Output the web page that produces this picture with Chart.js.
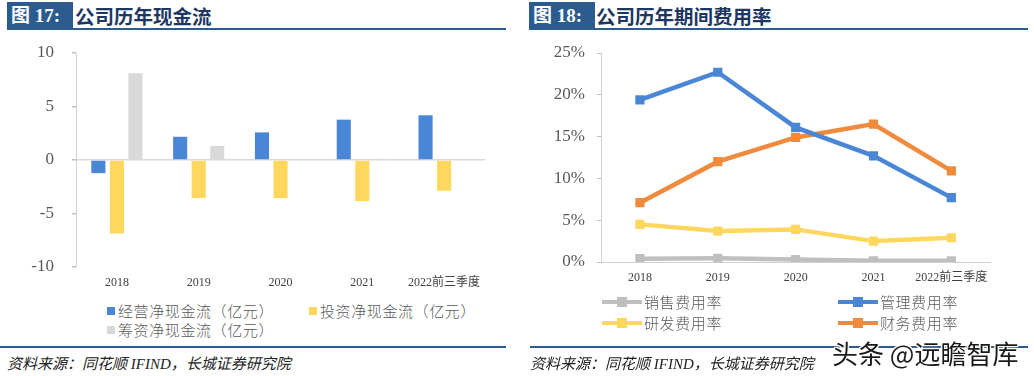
<!DOCTYPE html>
<html>
<head>
<meta charset="utf-8">
<script src="https://cdn.jsdelivr.net/npm/chart.js@4.4.0/dist/chart.umd.min.js"></script>
<style>
  html, body { margin: 0; padding: 0; background: #fff; }
  body { width: 1034px; height: 376px; position: relative; overflow: hidden;
         font-family: "Noto Sans CJK SC", "Liberation Serif", sans-serif; }
  .abs { position: absolute; }
  .tag { background: #2c5b8e; color: #fff; font: bold 19px "Liberation Serif", "Noto Sans CJK SC", serif;
         height: 27px; line-height: 27px; padding-left: 4px; box-sizing: border-box; top: 2px; }
  .title { color: #1d3763; font: bold 19.5px "Noto Sans CJK SC", sans-serif; top: 2px; height: 27px; line-height: 27px; }
  .rule { height: 2px; background: #2c5b8e; }
  .source { font: italic 15px "Liberation Serif", "Noto Sans CJK SC", serif; color: #222; top: 352px; }
  .legend { display: grid; color: #595959; font: 300 15px "Noto Sans CJK SC", sans-serif; letter-spacing: 0.6px; }
  .legend .item { display: flex; align-items: center; height: 19px; white-space: nowrap; }
  .legend .box { width: 8px; height: 8px; margin-right: 3px; }
  .legend .ln { position: relative; width: 40px; height: 4px; margin-right: 2px; }
  .legend .ln span { position: absolute; left: 15px; top: -3px; width: 10px; height: 10px; }
  .wm { left: 832px; top: 334px; font: 400 26px "Noto Sans CJK SC", sans-serif; color: #1a1a1a;
        text-shadow: -1px -1px 0 #fff, 1px -1px 0 #fff, -1px 1px 0 #fff, 1px 1px 0 #fff, 0 0 3px #fff; white-space: nowrap; }
</style>
</head>
<body>
  <div class="abs tag" style="left:7px;width:66px;">图 17:</div>
  <div class="abs title" style="left:75px;">公司历年现金流</div>
  <div class="abs rule" style="left:7px;top:28px;width:499px;"></div>
  <canvas id="cashChart" class="abs" width="500" height="255" style="left:0;top:40px;"></canvas>
  <div id="cashLegend" class="abs legend" style="left:107px;top:301px;grid-template-columns:202px 202px;"></div>
  <div class="abs rule" style="left:0;top:346px;width:506px;"></div>
  <div class="abs source" style="left:7px;">资料来源：同花顺 IFIND，长城证券研究院</div>

  <div class="abs tag" style="left:529px;width:66px;">图 18:</div>
  <div class="abs title" style="left:596px;">公司历年期间费用率</div>
  <div class="abs rule" style="left:529px;top:28px;width:499px;"></div>
  <canvas id="expenseChart" class="abs" width="480" height="255" style="left:517px;top:40px;"></canvas>
  <div id="expenseLegend" class="abs legend" style="left:602px;top:292px;grid-template-columns:236px 236px;row-gap:2px;"></div>
  <div class="abs rule" style="left:530px;top:346px;width:498px;"></div>
  <div class="abs source" style="left:530px;">资料来源：同花顺 IFIND，长城证券研究院</div>
  <div class="abs wm">头条 @远瞻智库</div>

<script>
const years = ['2018', '2019', '2020', '2021', '2022前三季度'];

// 现金流（亿元）
const operatingCF = [-1.23, 2.17, 2.58, 3.77, 4.18];
const investingCF = [-6.86, -3.56, -3.56, -3.84, -2.87];
const financingCF = [8.1, 1.32, 0, 0.1, 0];

// 期间费用率（%）
const salesRate = [0.4, 0.45, 0.3, 0.15, 0.15];
const adminRate = [19.4, 22.7, 16.1, 12.7, 7.7];
const rdRate = [4.5, 3.7, 3.9, 2.5, 2.9];
const financeRate = [7.1, 12.0, 14.9, 16.5, 10.9];

const serif = '"Liberation Serif", "Noto Sans CJK SC", serif';
Chart.defaults.font.family = serif;
Chart.defaults.color = '#595959';

function buildLegend(chart, elementId) {
    const el = document.getElementById(elementId);
    chart.data.datasets.forEach(function (ds) {
        const item = document.createElement('div');
        item.className = 'item';
        let marker;
        if (chart.config.type === 'bar') {
            marker = document.createElement('div');
            marker.className = 'box';
            marker.style.background = ds.backgroundColor;
        } else {
            marker = document.createElement('div');
            marker.className = 'ln';
            marker.style.background = ds.borderColor;
            const sq = document.createElement('span');
            sq.style.background = ds.borderColor;
            marker.appendChild(sq);
        }
        item.appendChild(marker);
        item.appendChild(document.createTextNode(ds.label));
        el.appendChild(item);
    });
}

// fixed axis width, and no extra room for the end labels
function fixYAxis(width) {
    return function (scale) {
        scale.width = width;
        scale.paddingTop = 0;
        scale.paddingBottom = 0;
    };
}

const cashChart = new Chart(document.getElementById('cashChart'), {
    type: 'bar',
    data: {
        labels: years,
        datasets: [
            { label: '经营净现金流（亿元）', data: operatingCF, backgroundColor: '#4a86d6' },
            { label: '投资净现金流（亿元）', data: investingCF, backgroundColor: '#ffd65e' },
            { label: '筹资净现金流（亿元）', data: financingCF, backgroundColor: '#d9d9d9' }
        ]
    },
    options: {
        responsive: false,
        animation: false,
        categoryPercentage: 0.68,
        barPercentage: 0.76,
        layout: { padding: { top: 13, right: 15, left: 0, bottom: 0 } },
        plugins: { legend: { display: false }, tooltip: { enabled: false } },
        scales: {
            x: {
                grid: { display: false, drawTicks: false },
                border: { display: false },
                ticks: { font: { size: 12, family: serif }, color: '#404040', padding: 9, maxRotation: 0 },
                afterFit: function (scale) { scale.height = 28; }
            },
            y: {
                min: -10,
                max: 10,
                ticks: { stepSize: 5, font: { size: 17, family: serif }, padding: 18 },
                grid: {
                    color: function (ctx) { return ctx.tick && ctx.tick.value === 0 ? '#d9d9d9' : 'rgba(0,0,0,0)'; },
                    tickColor: '#bfbfbf',
                    tickLength: 4,
                    lineWidth: 1.5
                },
                border: { display: true, color: '#d0d0d0' },
                afterFit: fixYAxis(76)
            }
        }
    }
});
buildLegend(cashChart, 'cashLegend');

function lineSet(label, data, color) {
    return {
        label: label,
        data: data,
        borderColor: color,
        backgroundColor: color,
        borderWidth: 4.5,
        pointStyle: 'rect',
        pointRadius: 6.5,
        pointBorderWidth: 0,
        tension: 0
    };
}

const expenseChart = new Chart(document.getElementById('expenseChart'), {
    type: 'line',
    data: {
        labels: years,
        datasets: [
            lineSet('销售费用率', salesRate, '#bfbfbf'),
            lineSet('管理费用率', adminRate, '#4a86d6'),
            lineSet('研发费用率', rdRate, '#ffd65e'),
            lineSet('财务费用率', financeRate, '#f08a3c')
        ]
    },
    options: {
        responsive: false,
        animation: false,
        layout: { padding: { top: 13, right: 2, left: 0, bottom: 0 } },
        plugins: { legend: { display: false }, tooltip: { enabled: false } },
        scales: {
            x: {
                offset: true,
                grid: { display: false, drawTicks: false },
                border: { display: true, color: '#d0d0d0' },
                ticks: { font: { size: 12, family: serif }, color: '#404040', padding: 9, maxRotation: 0 },
                afterFit: function (scale) { scale.height = 33; }
            },
            y: {
                min: 0,
                max: 25,
                ticks: {
                    stepSize: 5,
                    font: { size: 17, family: serif },
                    padding: 12,
                    callback: function (v) { return v + '%'; }
                },
                grid: { drawOnChartArea: false, tickColor: '#bfbfbf', tickLength: 4 },
                border: { display: true, color: '#d0d0d0' },
                afterFit: fixYAxis(84)
            }
        }
    }
});
buildLegend(expenseChart, 'expenseLegend');
</script>
</body>
</html>
